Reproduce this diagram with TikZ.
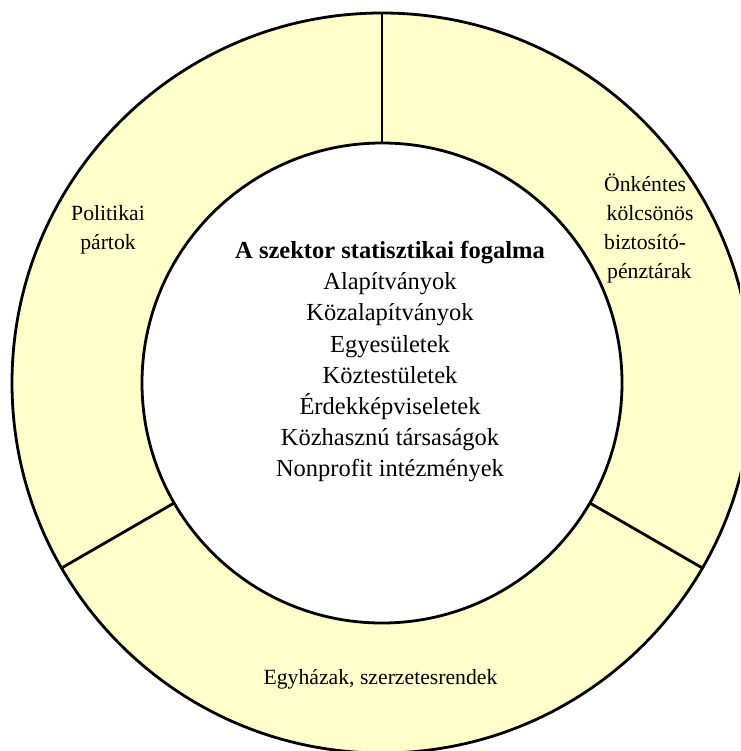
\documentclass[tikz,border=0pt]{standalone}
\usepackage{fontspec}
\setmainfont{Liberation Serif}
\usetikzlibrary{calc}
\definecolor{ringfill}{HTML}{FFFFCC}
\begin{document}
\begin{tikzpicture}[x=1pt,y=1pt,
  ringline/.style={line width=2.8pt, draw=black},
  centertext/.style={anchor=base, font=\fontsize{24.5}{31}\selectfont, inner sep=0pt},
  ringtext/.style={anchor=base, font=\fontsize{21.7}{28}\selectfont, inner sep=0pt},
  ringtextl/.style={anchor=base west, font=\fontsize{21.7}{28}\selectfont, inner sep=0pt}]
\useasboundingbox (0,0) rectangle (740,-751);
\clip (0,0) rectangle (740,-751);
\coordinate (O) at (382,-383);
\fill[ringfill] (O) circle (370);
\fill[white] (O) circle (240);
\draw[ringline] (O) circle (370);
\draw[ringline] (O) circle (240);
\coordinate (i1) at ($(O)+(90:240)$);
\coordinate (o1) at ($(O)+(90:370)$);
\coordinate (i2) at ($(O)+(210:240)$);
\coordinate (o2) at ($(O)+(210:370)$);
\coordinate (i3) at ($(O)+(330:240)$);
\coordinate (o3) at ($(O)+(330:370)$);
\draw[ringline] (i1) -- (o1);
\draw[ringline] (i2) -- (o2);
\draw[ringline] (i3) -- (o3);
% centre text
\node[centertext] (c0) at (390,-258.6) {\textbf{A szektor statisztikai fogalma}};
\node[centertext] (c1) at (390,-289.7) {Alapítványok};
\node[centertext] (c2) at (390,-320.9) {Közalapítványok};
\node[centertext] (c3) at (390,-352.0) {Egyesületek};
\node[centertext] (c4) at (390,-383.1) {Köztestületek};
\node[centertext] (c5) at (390,-414.3) {Érdekképviseletek};
\node[centertext] (c6) at (390,-445.4) {Közhasznú társaságok};
\node[centertext] (c7) at (390,-476.6) {Nonprofit intézmények};
% ring labels
\node[ringtext] (p1) at (108,-221) {Politikai};
\node[ringtext] (p2) at (108,-249) {pártok};
\node[ringtextl] (k1) at (604,-192) {Önkéntes};
\node[ringtextl] (k2) at (606.5,-220.7) {kölcsönös};
\node[ringtextl] (k3) at (604,-249.4) {biztosító-};
\node[ringtextl] (k4) at (607,-278.1) {pénztárak};
\node[ringtext] (e1) at (380.5,-684) {Egyházak, szerzetesrendek};
\end{tikzpicture}
\end{document}
